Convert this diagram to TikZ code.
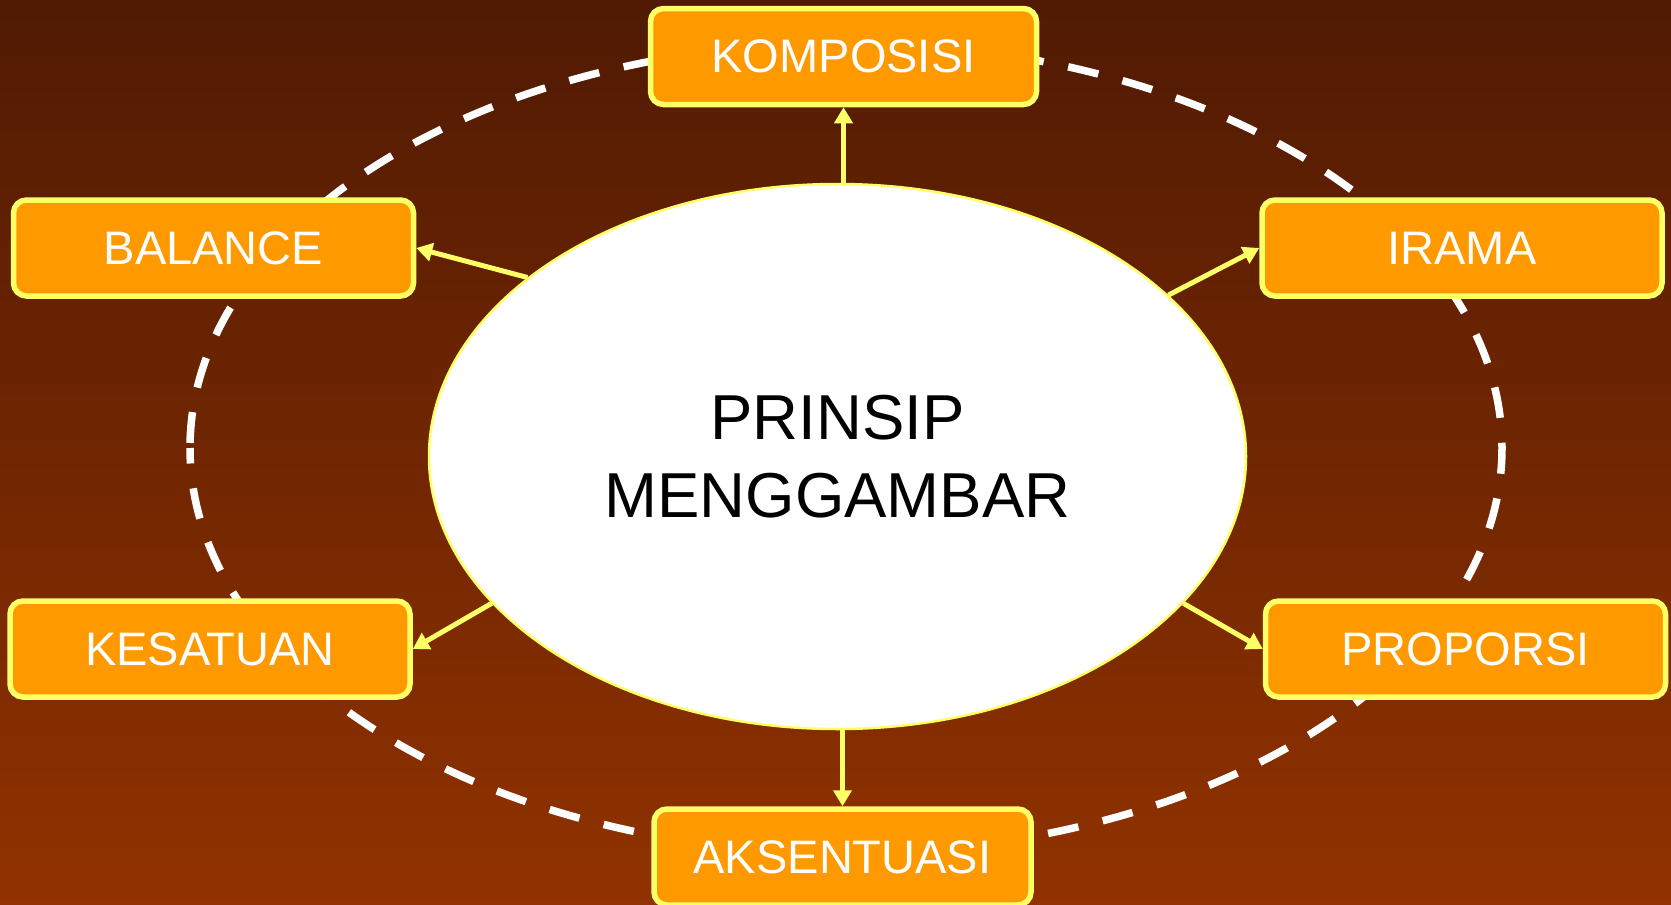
\documentclass[tikz,border=0pt]{standalone}
\usepackage{fontspec}
\setmainfont{Liberation Sans}
\usepackage{tikz}
\usetikzlibrary{arrows.meta, shapes.geometric}
\definecolor{bgtop}{RGB}{80,26,3}
\definecolor{bgbot}{RGB}{145,50,0}
\definecolor{boxfill}{RGB}{255,153,0}
\definecolor{rim}{RGB}{255,255,102}

\begin{document}
\begin{tikzpicture}[x=1pt, y=-1pt,
  prinsip/.style = {draw=rim, line width=5.5pt, fill=boxfill, rounded corners=13pt, minimum width=400pt, minimum height=96pt, inner sep=0pt, text=white, font=\fontsize{47}{56}\selectfont},
  pusat/.style = {ellipse, draw=rim, line width=2.5pt, fill=white, minimum width=817pt, minimum height=545pt, inner sep=0pt, align=center, font=\fontsize{63.5}{78}\selectfont},
  panah/.style = {draw=rim, line width=5pt, -{Triangle[length=16pt,width=18pt]}},
  lingkar/.style = {draw=white, line width=7.5pt, dash pattern=on 31pt off 25pt, dash phase=15.5pt}]
\shade[top color=bgtop, bottom color=bgbot] (0,0) rectangle (1671,905);
\useasboundingbox (0,0) rectangle (1671,905);
\draw[lingkar] (190,448) arc[start angle=180, end angle=-180, x radius=656, y radius=405];
\node[pusat] (inti) at (837.5,456.5) {PRINSIP\\MENGGAMBAR};
\node[prinsip, minimum width=386pt] (komposisi) at (843.5,56.5) {KOMPOSISI};
\node[prinsip] (balance) at (213.5,248) {BALANCE};
\node[prinsip] (irama) at (1462,248) {IRAMA};
\node[prinsip] (kesatuan) at (210,649) {KESATUAN};
\node[prinsip] (proporsi) at (1465.5,649) {PROPORSI};
\node[prinsip, minimum width=377pt] (aksentuasi) at (842.5,857) {AKSENTUASI};
\draw[panah] (komposisi.south |- inti.north) -- (komposisi.south);
\draw[panah] (inti.150) -- (balance.east);
\draw[panah] (inti.26) -- (irama.west);
\draw[panah] (inti.203) -- (kesatuan.east);
\draw[panah] (inti.337) -- (proporsi.west);
\draw[panah] (aksentuasi.north |- inti.south) -- (aksentuasi.north);
\end{tikzpicture}
\end{document}
